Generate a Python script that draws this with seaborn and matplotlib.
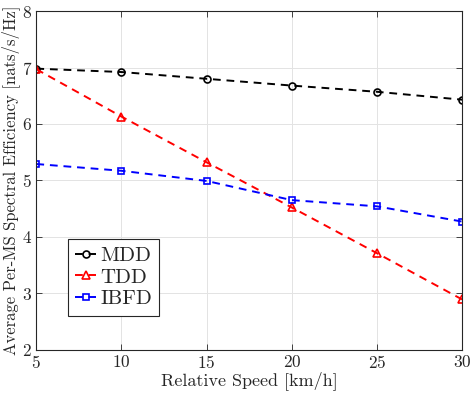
import matplotlib
matplotlib.use("Agg")
import matplotlib.pyplot as plt
import pandas as pd
import seaborn as sns

speed = [5, 10, 15, 20, 25, 30]
mdd = [6.98, 6.92, 6.80, 6.68, 6.57, 6.43]
tdd = [6.97, 6.13, 5.32, 4.52, 3.71, 2.89]
ibfd = [5.29, 5.17, 4.99, 4.65, 4.54, 4.27]

sns.set_theme(style="whitegrid")
plt.rcParams["font.family"] = ["cmr10", "DejaVu Serif"]
plt.rcParams["mathtext.fontset"] = "cm"
plt.rcParams["axes.formatter.use_mathtext"] = True

fig = plt.figure(figsize=(4.72, 3.96), dpi=100)
ax = fig.add_axes([0.077, 0.117, 0.902, 0.855])

series = [
    ("MDD", mdd, "black", "o", 5),
    ("TDD", tdd, "red", "^", 6),
    ("IBFD", ibfd, "blue", "s", 4.5),
]
for name, vals, col, mk, ms in series:
    df = pd.DataFrame({"speed": speed, "se": vals})
    sns.lineplot(data=df, x="speed", y="se", ax=ax, color=col, marker=mk,
                 markersize=ms, markerfacecolor="none", markeredgecolor=col,
                 markeredgewidth=1.2, linestyle=(0, (4, 3)), linewidth=1.4,
                 label=name)

ax.set_xlim(5, 30)
ax.set_ylim(2, 8)
ax.set_xticks([5, 10, 15, 20, 25, 30])
ax.set_yticks([2, 3, 4, 5, 6, 7, 8])
ax.grid(True, color="#e3e3e3", linewidth=0.7)
ax.set_facecolor("white")
for s in ax.spines.values():
    s.set_color("#262626")
    s.set_linewidth(0.8)
ax.tick_params(direction="in", length=4, width=0.6, colors="#262626",
               labelsize=12.5, top=True, right=True, bottom=True, left=True,
               pad=3, labelcolor="#262626")
ax.set_xlabel("Relative Speed [km/h]", fontsize=13, labelpad=0, color="#262626")
ax.set_ylabel("Average Per-MS Spectral Efficiency [nats/s/Hz]", fontsize=12,
              labelpad=1, color="#262626")

leg = ax.legend(loc="lower left", bbox_to_anchor=(0.05, 0.07), fontsize=15,
                frameon=True, fancybox=False, handlelength=1.0,
                handletextpad=0.2, borderpad=0.35, labelspacing=0.15)
leg.get_frame().set_edgecolor("#262626")
leg.get_frame().set_linewidth(0.8)
leg.get_frame().set_alpha(1)

fig.savefig("out.png", dpi=100)
